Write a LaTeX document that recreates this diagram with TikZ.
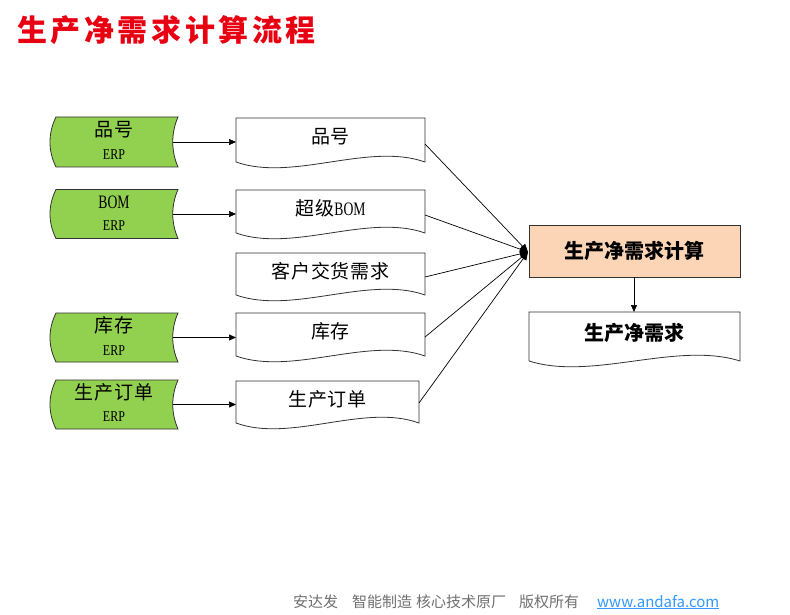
\documentclass[tikz,border=0pt]{standalone}
\usepackage{fontspec}
\usepackage{graphicx}
\setmainfont{Liberation Serif}
\newfontfamily\cjk{Noto Sans CJK SC}
\newfontfamily\cjkdoc[LetterSpace=5]{Noto Sans CJK SC}
\newfontfamily\cjktitle[LetterSpace=12]{Noto Sans CJK SC}
\usetikzlibrary{arrows.meta,calc}
\definecolor{gfill}{RGB}{146,208,80}
\definecolor{calcfill}{RGB}{251,213,181}
\definecolor{titlered}{RGB}{232,0,18}
\definecolor{footgray}{RGB}{112,112,112}
\definecolor{urlblue}{RGB}{51,153,255}
\definecolor{edgecol}{RGB}{50,50,50}
\newcommand\doctextfont{\cjkdoc\fontsize{19}{19}\selectfont}
\newcommand\latinbig[1]{\scalebox{0.72}[1]{\rmfamily\fontsize{19}{19}\selectfont #1}}
\newcommand\erptext{\scalebox{0.8}[1]{\rmfamily\fontsize{15}{15}\selectfont ERP}}
\newcommand\greenpath[1]{%
  \draw[greenline] ($(#1.north west)+(6,0)$) -- (#1.north east)
    .. controls ($(#1.north east)+(-7,16)$) and ($(#1.south east)+(-7,-16)$) .. (#1.south east)
    -- ($(#1.south west)+(6,0)$)
    .. controls ($(#1.south west)+(-2,-16)$) and ($(#1.north west)+(-2,16)$) .. ($(#1.north west)+(6,0)$) -- cycle;}
\newcommand\docpath[1]{%
  \draw[docline] (#1.north west) -- (#1.north east) -- (#1.south east)
    .. controls ($(#1.south east)!0.3!(#1.south west)+(0,-20)$) and ($(#1.south west)!0.3!(#1.south east)+(0,20)$) .. (#1.south west) -- cycle;}
\tikzset{
  shapebox/.style={inner sep=0pt, outer sep=0pt},
  greenline/.style={fill=gfill, draw=edgecol, line width=0.8pt},
  docline/.style={fill=white, draw=edgecol, line width=0.8pt},
  calcbox/.style={shapebox, fill=calcfill, draw=edgecol, line width=0.8pt, minimum width=211pt, minimum height=52pt},
  doctext/.style={inner sep=0pt, font=\doctextfont},
  ertext/.style={inner sep=0pt},
  arrowline/.style={draw=black, line width=0.7pt, -{Triangle[length=7pt,width=6pt]}},
  fanline/.style={draw=black, line width=0.7pt, -{Triangle[length=8pt,width=7pt]}},
  foottext/.style={anchor=base west, inner sep=0pt, font=\cjk\fontsize{15}{15}\selectfont},
}
\begin{document}
\begin{tikzpicture}[x=1pt,y=-1pt]
\useasboundingbox (0,0) rectangle (790,615);
\fill[white] (0,0) rectangle (790,615);

% title
\node[anchor=west, inner sep=0pt, text=titlered, font=\cjktitle\bfseries\fontsize{30}{30}\selectfont] (title) at (17,30) {生产净需求计算流程};

% green source shapes
\node[shapebox, minimum width=128pt, minimum height=50pt] (g1) at (114,142) {};
\node[shapebox, minimum width=128pt, minimum height=49pt] (g2) at (114,214) {};
\node[shapebox, minimum width=128pt, minimum height=49pt] (g3) at (114,337.5) {};
\node[shapebox, minimum width=128pt, minimum height=49pt] (g4) at (114,404.5) {};
\greenpath{g1}\greenpath{g2}\greenpath{g3}\greenpath{g4}

% document shapes
\node[shapebox, minimum width=189pt, minimum height=44pt] (d1) at (330.5,140) {};
\node[shapebox, minimum width=189pt, minimum height=43pt] (d2) at (330.5,211.5) {};
\node[shapebox, minimum width=189pt, minimum height=42pt] (d3) at (330.5,274) {};
\node[shapebox, minimum width=189pt, minimum height=43pt] (d4) at (330.5,334.5) {};
\node[shapebox, minimum width=183pt, minimum height=42pt] (d5) at (327.5,402) {};
\node[shapebox, minimum width=211pt, minimum height=49pt] (out) at (634.5,336.5) {};
\docpath{d1}\docpath{d2}\docpath{d3}\docpath{d4}\docpath{d5}\docpath{out}

% calculation box
\node[calcbox] (calc) at (634.5,251) {};

% texts in green shapes
\node[doctext] (g1t) at ($(g1.center)+(0,-12)$) {品号};
\node[ertext] (g1e) at ($(g1.center)+(0,13)$) {\erptext};
\node[inner sep=0pt] (g2t) at ($(g2.center)+(0,-12)$) {\latinbig{BOM}};
\node[ertext] (g2e) at ($(g2.center)+(0,12)$) {\erptext};
\node[doctext] (g3t) at ($(g3.center)+(0,-12)$) {库存};
\node[ertext] (g3e) at ($(g3.center)+(0,13)$) {\erptext};
\node[doctext] (g4t) at ($(g4.center)+(0,-12)$) {生产订单};
\node[ertext] (g4e) at ($(g4.center)+(0,12)$) {\erptext};

% texts in documents
\node[doctext] (d1t) at ($(d1.center)+(0,-3)$) {品号};
\node[doctext] (d2t) at ($(d2.center)+(0,-3)$) {超级\latinbig{BOM}};
\node[doctext] (d3t) at ($(d3.center)+(0,-3)$) {客户交货需求};
\node[doctext] (d4t) at ($(d4.center)+(0,-3)$) {库存};
\node[doctext] (d5t) at ($(d5.center)+(0,-3)$) {生产订单};
\node[inner sep=0pt, font=\cjk\bfseries\fontsize{20}{20}\selectfont] (outt) at ($(out.center)+(0,-4)$) {生产净需求};
\node[inner sep=0pt, font=\cjk\bfseries\fontsize{20}{20}\selectfont] (calct) at (calc.center) {生产净需求计算};

% connectors
\draw[arrowline] ($(g1.east)+(-5,0)$) -- (g1.east -| d1.west);
\draw[arrowline] ($(g2.east)+(-5,0)$) -- (g2.east -| d2.west);
\draw[arrowline] ($(g3.east)+(-5,0)$) -- (g3.east -| d4.west);
\draw[arrowline] ($(g4.east)+(-5,0)$) -- (g4.east -| d5.west);

\draw[fanline] ($(d1.east)+(0,4)$) -- ($(calc.west)+(-1,1)$);
\draw[fanline] ($(d2.east)+(0,3.5)$) -- ($(calc.west)+(-1,1)$);
\draw[fanline] ($(d3.east)+(0,3)$) -- ($(calc.west)+(-1,1)$);
\draw[fanline] ($(d4.east)+(0,2.5)$) -- ($(calc.west)+(-1,1)$);
\draw[fanline] ($(d5.east)+(0,1)$) -- ($(calc.west)+(-1,1)$);

\draw[arrowline] (calc.south -| 634,0) -- (out.north -| 634,0);

% footer
\node[foottext, text=footgray] (foot) at (293,607) {安达发\hspace{14pt}智能制造\hspace{4pt}核心技术原厂\hspace{13pt}版权所有};
\node[foottext, text=urlblue] (url) at (597,607) {\underline{www.andafa.com}};
\end{tikzpicture}
\end{document}
